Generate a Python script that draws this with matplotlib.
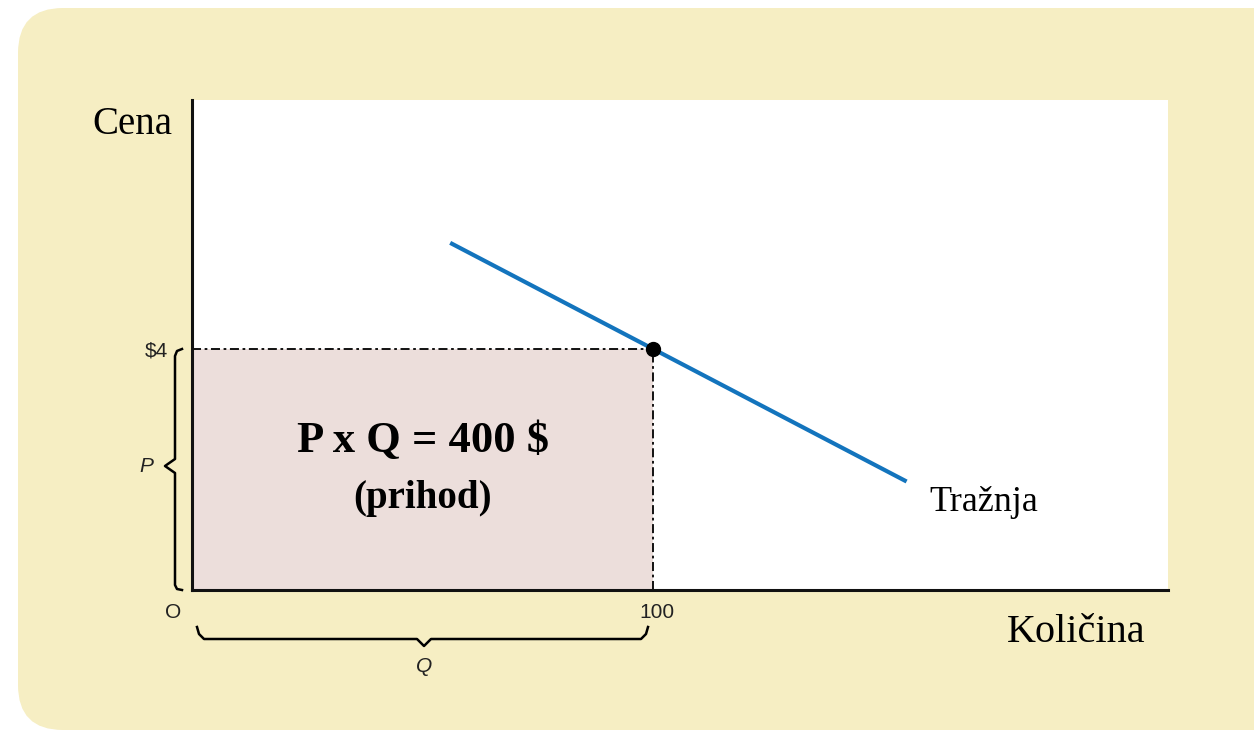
import matplotlib.pyplot as plt
from matplotlib.patches import FancyBboxPatch, Rectangle

# demand line and the chosen point
demand_q = [56, 155]
demand_p = [5.76, 1.8]
point_q = 100
point_p = 4
x_max = 211.7
y_max = 8.13

bg_color = "#f6eec3"
fill_color = "#ecdedb"
line_color = "#1374bd"

fig = plt.figure(figsize=(12.54, 7.33), dpi=100)
fig.patch.set_facecolor("white")

# rounded background panel, drawn in pixel coords
bg = fig.add_axes([0, 0, 1, 1])
bg.set_xlim(0, 1254)
bg.set_ylim(733, 0)
bg.axis("off")
bg.add_patch(FancyBboxPatch((18, 8), 1300, 722, boxstyle="round,pad=0,rounding_size=45",
                            facecolor=bg_color, edgecolor="none"))

ax = fig.add_axes([192 / 1254, 143 / 733, 976 / 1254, 490 / 733])
ax.set_facecolor("white")
ax.set_xlim(0, x_max)
ax.set_ylim(0, y_max)
for s in ["top", "right"]:
    ax.spines[s].set_visible(False)
for s in ["left", "bottom"]:
    ax.spines[s].set_linewidth(2.2)
    ax.spines[s].set_color("#111111")
ax.set_xticks([])
ax.set_yticks([])

# revenue rectangle
ax.add_patch(Rectangle((0, 0), point_q, point_p, facecolor=fill_color, edgecolor="none", zorder=1))
ax.plot([0, point_q], [point_p, point_p], color="black", lw=1.3, dashes=(5, 2, 1.5, 2), zorder=2)
ax.plot([point_q, point_q], [0, point_p], color="black", lw=1.3, dashes=(5, 2, 1.5, 2), zorder=2)

ax.plot(demand_q, demand_p, color=line_color, lw=3, solid_capstyle="butt", zorder=3)
ax.plot([point_q], [point_p], "o", color="black", ms=10, zorder=4)

serif = "Liberation Serif"
sans = "Liberation Sans"

ax.text(50, 2.47, "P x Q = 400 $", fontsize=32, fontweight="bold", family=serif,
        ha="center", va="center")
ax.text(50, 1.52, "(prihod)", fontsize=28, fontweight="bold", family=serif,
        ha="center", va="center")
ax.text(160, 1.45, "Tražnja", fontsize=26, family=serif, ha="left", va="center")

# labels outside the axes
bg.text(132, 125, "Cena", fontsize=28, family=serif, ha="center", va="center")
bg.text(1076, 632, "Količina", fontsize=29, family=serif, ha="center", va="center")
bg.text(156, 351, "$4", fontsize=15, family=sans, ha="center", va="center", color="#222222")
bg.text(146, 467, "P", fontsize=15, family=sans, style="italic", ha="center", va="center", color="#222222")
bg.text(173, 613, "O", fontsize=15, family=sans, ha="center", va="center", color="#222222")
bg.text(657, 613, "100", fontsize=15, family=sans, ha="center", va="center", color="#222222")
bg.text(424, 667, "Q", fontsize=15, family=sans, style="italic", ha="center", va="center", color="#222222")

# braces (pixel coords)
lx = 175
bg.plot([182, 177, lx, lx, 165, lx, lx, 177, 182],
        [349, 351, 356, 459, 466, 473, 585, 589, 590], color="black", lw=1.8)
by = 639
bg.plot([197, 199, 204, 417, 424, 431, 641, 646, 648],
        [627, 634, by, by, 646, by, by, 634, 627], color="black", lw=1.8)

fig.savefig("out.png", dpi=100, facecolor=fig.get_facecolor())
